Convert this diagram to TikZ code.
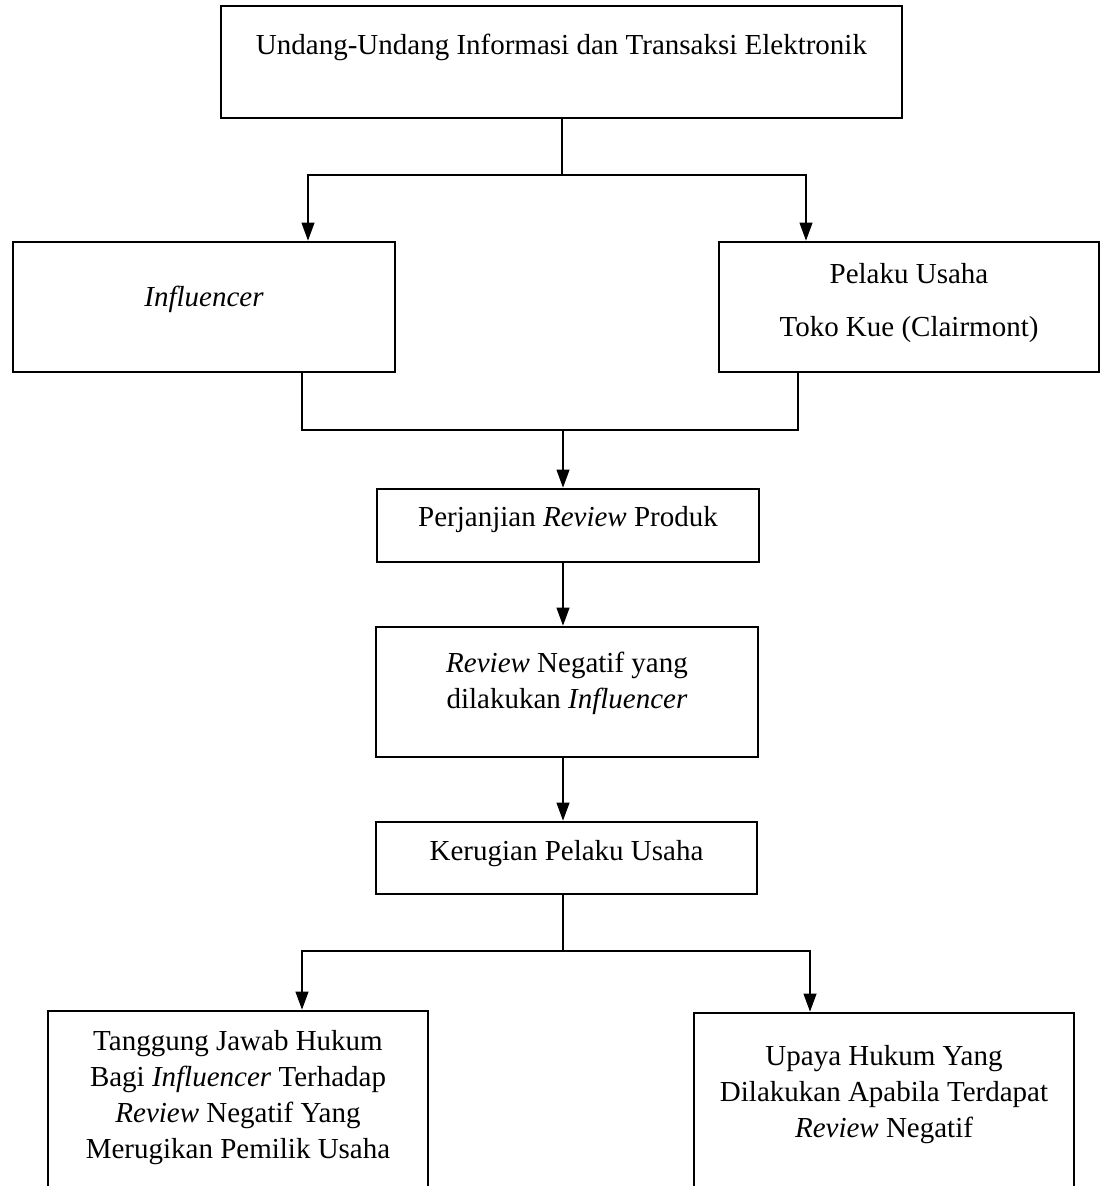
\documentclass[tikz,border=0pt]{standalone}
\usepackage{fontspec}
\setmainfont{Liberation Serif}
\usetikzlibrary{arrows.meta}
\begin{document}
\begin{tikzpicture}[x=1pt,y=-1pt,
  box/.style={draw, line width=2.8pt, inner sep=0pt},
  txt/.style={inner sep=0pt, align=center, font=\fontsize{29}{36}\selectfont},
  conn/.style={line width=1.1pt},
  arr/.style={line width=1.1pt, -{Triangle[length=18pt,width=13pt]}}]
\useasboundingbox (0,0) rectangle (1101,1186);
\clip (0,0) rectangle (1101,1186);
\fill[white] (0,0) rectangle (1101,1186);
% boxes
\node[box, minimum width=681pt, minimum height=112pt] (uu) at (561.5,62) {};
\node[box, minimum width=382pt, minimum height=130pt] (inf) at (204,307) {};
\node[box, minimum width=380pt, minimum height=130pt] (pel) at (909,307) {};
\node[box, minimum width=382pt, minimum height=73pt] (perj) at (568,525.5) {};
\node[box, minimum width=382pt, minimum height=130pt] (rev) at (567,692) {};
\node[box, minimum width=381pt, minimum height=72pt] (rug) at (566.5,858) {};
\node[box, minimum width=380pt, minimum height=200pt] (tj) at (238,1111) {};
\node[box, minimum width=380pt, minimum height=200pt] (up) at (884,1113) {};
% texts
\node[txt] (uut) at (561.5,47) {Undang-Undang Informasi dan Transaksi Elektronik};
\node[txt] (inft) at (204,299) {\textit{Influencer}};
\node[txt] (pelt1) at (909,274) {Pelaku Usaha};
\node[txt] (pelt2) at (909,330) {Toko Kue (Clairmont)};
\node[txt] (perjt) at (568,520) {Perjanjian \textit{Review} Produk};
\node[txt] (revt) at (567,683) {\textit{Review} Negatif yang\\dilakukan \textit{Influencer}};
\node[txt] (rugt) at (566.5,854) {Kerugian Pelaku Usaha};
\node[txt] (tjt) at (238,1098) {Tanggung Jawab Hukum\\Bagi \textit{Influencer} Terhadap\\\textit{Review} Negatif Yang\\Merugikan Pemilik Usaha};
\node[txt] (upt) at (884,1095) {Upaya Hukum Yang\\Dilakukan Apabila Terdapat\\\textit{Review} Negatif};
% junction coordinates
\coordinate (j1) at (562,175);
\coordinate (a1) at (308,175);
\coordinate (a2) at (806,175);
\coordinate (j2) at (563,430);
\coordinate (b1) at (302,430);
\coordinate (b2) at (798,430);
\coordinate (j3) at (563,951);
\coordinate (c1) at (302,951);
\coordinate (c2) at (810,951);
% connectors
\draw[conn] (uu.south -| j1) -- (j1);
\draw[arr] (j1) -| (a1 |- inf.north);
\draw[arr] (j1) -| (a2 |- pel.north);
\draw[conn] (b1 |- inf.south) -- (b1) -- (b2) -- (b2 |- pel.south);
\draw[arr] (j2) -- (j2 |- perj.north);
\draw[arr] (perj.south -| j2) -- (j2 |- rev.north);
\draw[arr] (rev.south -| j2) -- (j2 |- rug.north);
\draw[conn] (rug.south -| j3) -- (j3);
\draw[arr] (j3) -| (c1 |- tj.north);
\draw[arr] (j3) -| (c2 |- up.north);
\end{tikzpicture}
\end{document}
